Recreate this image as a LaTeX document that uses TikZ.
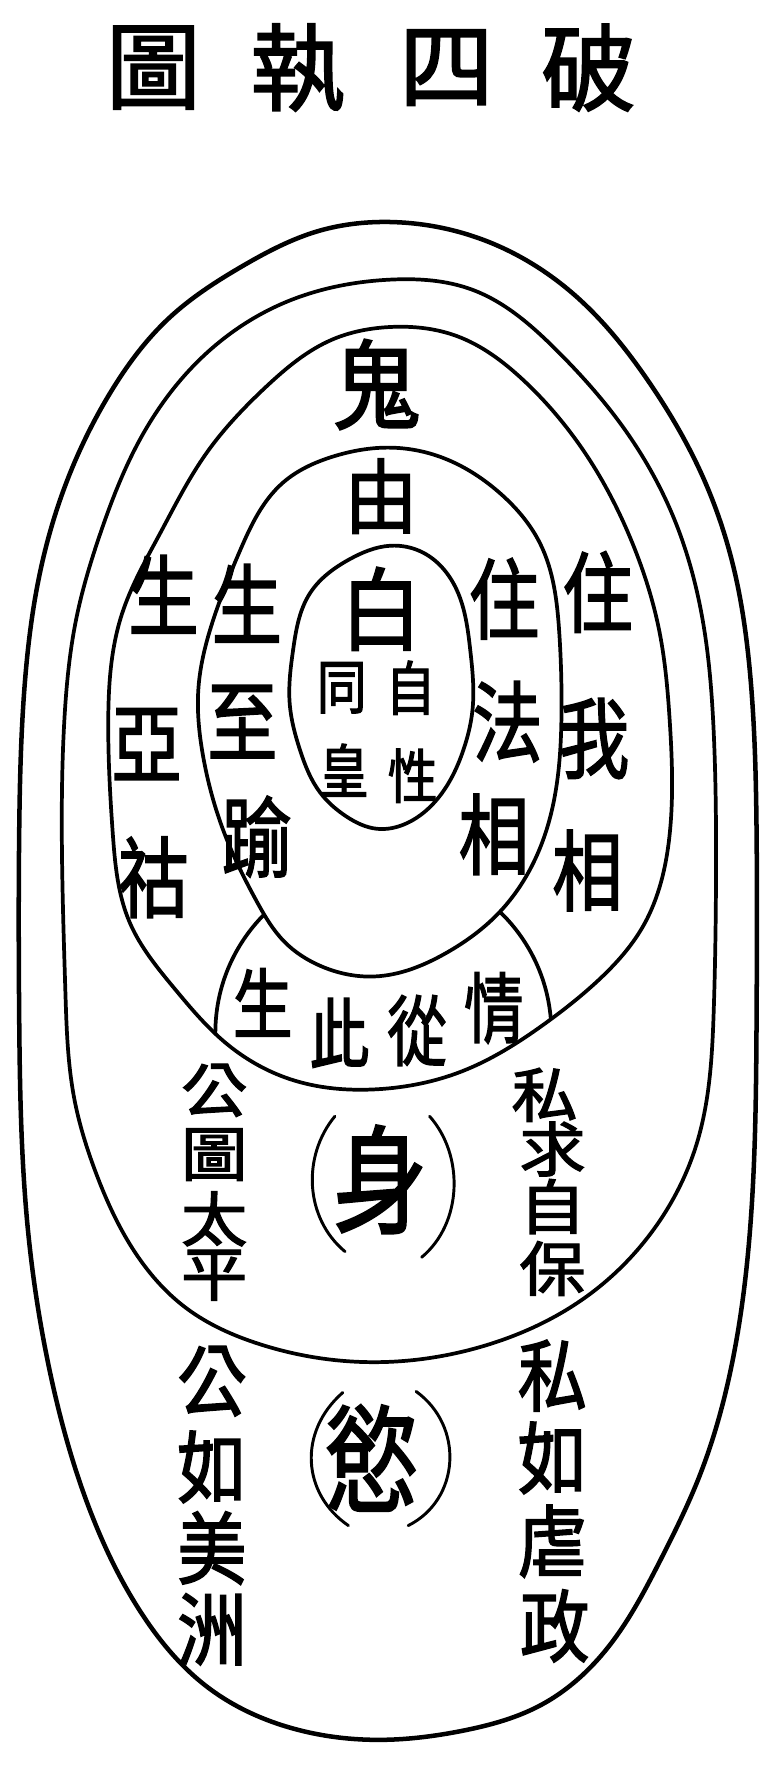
\documentclass[tikz,border=0pt]{standalone}
\usepackage{fontspec}
\usetikzlibrary{hobby}
\newfontfamily\cjk[FakeBold=2]{Noto Sans CJK TC}
\begin{document}
\begin{tikzpicture}[x=1pt,y=-1pt,
  ring/.style={line width=3.3pt, line join=round},
  outerring/.style={line width=4pt, line join=round},
  paren/.style={line width=2.6pt, line cap=round},
  ttl/.style={inner sep=0pt, font=\cjk\fontsize{84}{84}\selectfont},
  cc/.style={inner sep=0pt, xscale=0.8, font=\cjk\fontsize{78}{78}\selectfont},
  guich/.style={inner sep=0pt, xscale=0.9, font=\cjk\fontsize{86}{86}\selectfont},
  youch/.style={inner sep=0pt, xscale=0.9, font=\cjk\fontsize{72}{72}\selectfont},
  baich/.style={inner sep=0pt, xscale=0.9, font=\cjk\fontsize{80}{80}\selectfont},
  sm/.style={inner sep=0pt, xscale=0.85, font=\cjk\fontsize{52}{52}\selectfont},
  mid/.style={inner sep=0pt, xscale=0.95, yscale=0.85, font=\cjk\fontsize{62}{62}\selectfont},
  low/.style={inner sep=0pt, xscale=0.88, font=\cjk\fontsize{70}{70}\selectfont},
  rowch/.style={inner sep=0pt, xscale=0.78, font=\cjk\fontsize{68}{68}\selectfont},
  hugech/.style={inner sep=0pt, xscale=0.8, font=\cjk\fontsize{104}{104}\selectfont},
]
\fill[white] (0,0) rectangle (694,1568);
\useasboundingbox (0,0) rectangle (694,1568);

% outermost ring A
\draw[outerring] plot[closed hobby] coordinates {(350,197) (432,214) (510,262) (575,338) (622,420) (651,505) (665,595) (671,740) (671,900) (665,1093) (648,1215) (620,1310) (585,1385) (540,1460) (480,1512) (410,1535) (340,1543) (260,1533) (185,1497) (125,1430) (80,1340) (45,1220) (25,1093) (17,900) (17,740) (22,606) (35,510) (60,425) (98,348) (150,282) (215,236) (282,205)};
% ring B
\draw[ring] plot[closed hobby] coordinates {(346,248) (419,257) (493,310) (552,378) (597,458) (625,561) (633,650) (635,780) (633,896) (618,1014) (580,1090) (520,1150) (428,1194) (325,1208) (230,1192) (165,1160) (118,1108) (85,1040) (66,975) (58,880) (55,760) (57,640) (68,547) (89,473) (124,390) (177,319) (251,269)};
% ring C
\draw[ring] plot[closed hobby] coordinates {(346,290) (405,298) (464,337) (523,408) (561,482) (585,561) (594,640) (594,739) (570,822) (530,870) (483,908) (410,950) (335,966) (257,957) (199,924) (155,877) (115,818) (100,739) (96,640) (108,545) (142,473) (183,402) (236,343) (295,301)};
% lens circle F, only inside C
\begin{scope}
\clip plot[closed hobby] coordinates {(346,290) (405,298) (464,337) (523,408) (561,482) (585,561) (594,640) (594,739) (570,822) (530,870) (483,908) (410,950) (335,966) (257,957) (199,924) (155,877) (115,818) (100,739) (96,640) (108,545) (142,473) (183,402) (236,343) (295,301)};
\draw[ring] (340,916) circle[radius=149];
\end{scope}
% ring D
\draw[ring, fill=white] plot[closed hobby] coordinates {(346,397) (390,405) (443,437) (479,482) (496,561) (498,630) (485,735) (443,809) (396,845) (332,866) (285,857) (252,835) (228,800) (199,739) (180,670) (176,610) (190,547) (213,488) (251,428) (295,405)};
% ring E
\draw[ring] plot[closed hobby] coordinates {(346,484) (375,490) (405,523) (417,576) (419,630) (411,665) (390,706) (361,730) (334,735) (307,724) (284,703) (266,665) (257,625) (260,576) (275,526) (310,496)};

% parentheses
\draw[paren] (297,990) .. controls (268,1025) and (270,1080) .. (306,1110);
\draw[paren] (381,990) .. controls (412,1025) and (410,1085) .. (374,1115);
\draw[paren] (304,1235) .. controls (264,1270) and (268,1325) .. (309,1353);
\draw[paren] (369,1234) .. controls (412,1265) and (408,1330) .. (362,1353);

% title
\node[ttl] (t1) at (136,60) {圖};
\node[ttl] (t2) at (264,60) {執};
\node[ttl] (t3) at (396,60) {四};
\node[ttl] (t4) at (522,60) {破};

% centre column
\node[guich] (gui) at (334,341) {鬼};
\node[youch] (you) at (338,440) {由};
\node[baich] (bai) at (338,540) {白};
\node[sm] (tong) at (303,610) {同};
\node[sm] (huang) at (305,683) {皇};
\node[sm] (zi1) at (364,610) {自};
\node[sm] (xing) at (366,688) {性};

% right columns
\node[cc] (zhu1) at (447,531) {住};
\node[cc] (fa) at (450,640) {法};
\node[cc] (xiang1) at (438,740) {相};
\node[cc] (zhu2) at (530,525) {住};
\node[cc] (wo) at (527,655) {我};
\node[cc] (xiang2) at (521,772) {相};

% left columns
\node[cc] (sheng1) at (145,527) {生};
\node[cc] (ya) at (130,660) {亞};
\node[cc] (hu) at (136,778) {祜};
\node[cc] (sheng2) at (219,535) {生};
\node[cc] (zhi) at (215,640) {至};
\node[cc] (yu) at (228,742) {踰};

% lens row
\node[rowch] (sheng3) at (233,889) {生};
\node[rowch] (ci) at (301,916) {此};
\node[rowch] (cong) at (370,914) {從};
\node[rowch] (qing) at (438,894) {情};

% body band
\node[mid] (gong1) at (190,967) {公};
\node[mid] (tu) at (190,1024) {圖};
\node[mid] (tai) at (190,1081) {太};
\node[mid] (ping) at (190,1131) {平};
\node[mid] (si1) at (483,971) {私};
\node[mid] (qiu) at (490,1019) {求};
\node[mid] (zi2) at (490,1070) {自};
\node[mid] (bao) at (490,1125) {保};
\node[hugech] (shen) at (337,1046) {身};

% desire band
\node[low] (gong2) at (188,1225) {公};
\node[low] (ru1) at (188,1301) {如};
\node[low] (mei) at (188,1373) {美};
\node[low] (zhou) at (188,1445) {洲};
\node[low] (si2) at (490,1220) {私};
\node[low] (ru2) at (490,1293) {如};
\node[low] (nue) at (490,1367) {虐};
\node[low] (zheng) at (492,1442) {政};
\node[hugech] (yu2) at (330,1293) {慾};
\end{tikzpicture}
\end{document}
